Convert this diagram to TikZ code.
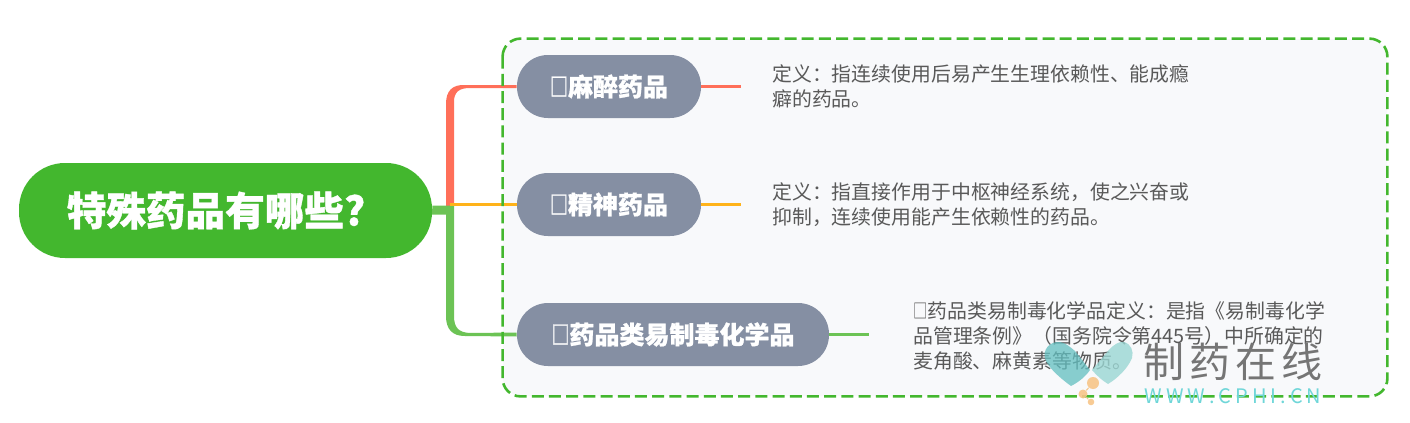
\documentclass[tikz,border=0pt]{standalone}
\usepackage{graphicx}
\usepackage{fontspec}
\setmainfont[BoldFeatures={FakeBold=0.9}]{Noto Sans CJK SC}
\usetikzlibrary{positioning}
\definecolor{rootgreen}{HTML}{43B72E}
\definecolor{nodegrey}{HTML}{858FA3}
\definecolor{panelfill}{HTML}{F8F9FB}
\definecolor{linered}{HTML}{FF6F59}
\definecolor{lineorange}{HTML}{FFB31A}
\definecolor{linegreen}{HTML}{6CC355}
\definecolor{desctext}{HTML}{595959}
\definecolor{marktext}{HTML}{757575}
\definecolor{markteal}{HTML}{62BFC0}
\definecolor{markpale}{HTML}{9AD6D3}
\definecolor{markurlcol}{HTML}{6FD6D8}
\definecolor{markdotcol}{HTML}{F7C588}
\newcommand{\tofubox}{\scalebox{0.72}[1]{□}}
\begin{document}
\begin{tikzpicture}[
     x=0.5pt, y=-0.5pt,
     % define styles
     rootbox/.style={
         draw=none, fill=rootgreen, text=white,
         rounded corners=23pt, inner sep=0pt,
         minimum width=206.5pt, minimum height=47.5pt,
         font=\fontsize{19.8}{24}\selectfont\bfseries
     },
     drugbox/.style={
         draw=none, fill=nodegrey, text=white,
         rounded corners=15.5pt, inner sep=0pt,
         minimum height=31.5pt,
         font=\fontsize{12.5}{16}\selectfont\bfseries
     },
     desc/.style={
         anchor=north west, inner sep=0pt, align=left, text=desctext,
         font=\fontsize{9.93}{12.5}\selectfont
     },
     markdot/.style={
         circle, fill=markdotcol, inner sep=0pt, opacity=.9
     }
]
\useasboundingbox (0,0) rectangle (1410,423);
% panel behind the branches
\node[fill=panelfill, rounded corners=9pt,
      minimum width=442pt, minimum height=178.5pt, inner sep=0pt] (panel) at (945,217.5) {};

% nodes
\node[rootbox] (root) at (225.5,210.5) {特殊药品有哪些?\kern 9.5pt};
\node[drugbox, minimum width=92pt] (mazui) at (609,86.5) {\tofubox 麻醉药品};
\node[drugbox, minimum width=92pt] (jingshen) at (609,204.5) {\tofubox 精神药品};
\node[drugbox, minimum width=156pt] (yizhi) at (673,334.5) {\tofubox 药品类易制毒化学品};

\node[desc] (mazuitext) at (772,64) {定义：指连续使用后易产生生理依赖性、能成瘾\\癖的药品。};
\node[desc] (jingshentext) at (772,182) {定义：指直接作用于中枢神经系统，使之兴奋或\\抑制，连续使用能产生依赖性的药品。};
\node[desc] (yizhitext) at (913,301) {\tofubox 药品类易制毒化学品定义：是指《易制毒化学\\品管理条例》（国务院令第445号）中所确定的\\麦角酸、麻黄素等物质。};

% free ends of the branches
\coordinate (mazuiend) at (741,86.5);
\coordinate (jingshenend) at (741,204.5);
\coordinate (yizhiend) at (869,334.5);

% tapered lines from the fork to the boxes
\fill[linered] (446,206) -- (446,104) .. controls (446,91) and (452,84.5) .. (465,85)
    -- ([yshift=.75pt]mazui.west) -- ([yshift=-.75pt]mazui.west) -- (470,88)
    .. controls (459,88) and (454,92) .. (454,102) -- (454,206) -- cycle;
\fill[linegreen] (root.east) ++(0,-5) -- (446,205.5) -- (454,205.5) -- (454,316)
    .. controls (454,328) and (459,332.5) .. (470,333) -- ([yshift=1pt]yizhi.west)
    -- ([yshift=-1pt]yizhi.west) -- (465,336) .. controls (452,336) and (446,329) .. (446,316)
    -- (446,214.5) -- (432,214.5) -- cycle;
\draw[lineorange, line width=1.25pt] (450,204.5) -- (jingshen.west);

% lines out of each drug box
\draw[linered, line width=1.25pt] (mazui.east) -- (mazuiend);
\draw[lineorange, line width=1.25pt] (jingshen.east) -- (jingshenend);
\draw[linegreen, line width=1.25pt] (yizhi.east) -- (yizhiend);

% dashed edge of the panel
\draw[rootgreen, line width=1.3pt, dash pattern=on 6pt off 2.6pt, rounded corners=9pt]
    (panel.north west) rectangle (panel.south east);

% watermark
\fill[markteal, opacity=.75] (1071,386) .. controls (1060,378) and (1050,369) .. (1046,361)
    .. controls (1041,350) and (1050,341) .. (1060,342)
    .. controls (1066,343) and (1070,347) .. (1075,351)
    -- (1090,370) .. controls (1086,376) and (1079,382) .. (1071,386) -- cycle;
\fill[markpale, opacity=.8] (1108,384) .. controls (1103,381) and (1097,376) .. (1092,370)
    -- (1108,351) .. controls (1113,345) and (1119,341) .. (1124,342)
    .. controls (1131,344) and (1134,351) .. (1132,358)
    .. controls (1128,368) and (1118,378) .. (1108,384) -- cycle;
\node[markdot, minimum size=6pt] (dotbig) at (1093,383) {};
\node[markdot, minimum size=4.5pt] (dotmid) at (1083,394) {};
\node[markdot, minimum size=3.3pt] (dotsmall) at (1091,402) {};
\draw[markdotcol, line width=.5pt] (dotbig) -- (dotmid) -- (dotsmall);
\node[inner sep=0pt, text=marktext, font=\fontsize{20.5}{24}\selectfont] (markname) at (1233,362)
    {制\hspace{2.5pt}药\hspace{2.5pt}在\hspace{2.5pt}线};
\node[inner sep=0pt, text=markurlcol, font=\fontsize{10}{12}\selectfont] (markurl) at (1233,396)
    {W\hspace{2pt}W\hspace{2pt}W\hspace{2pt}.\hspace{2pt}C\hspace{2pt}P\hspace{2pt}H\hspace{2pt}I\hspace{2pt}.\hspace{2pt}C\hspace{2pt}N};
\end{tikzpicture}
\end{document}
